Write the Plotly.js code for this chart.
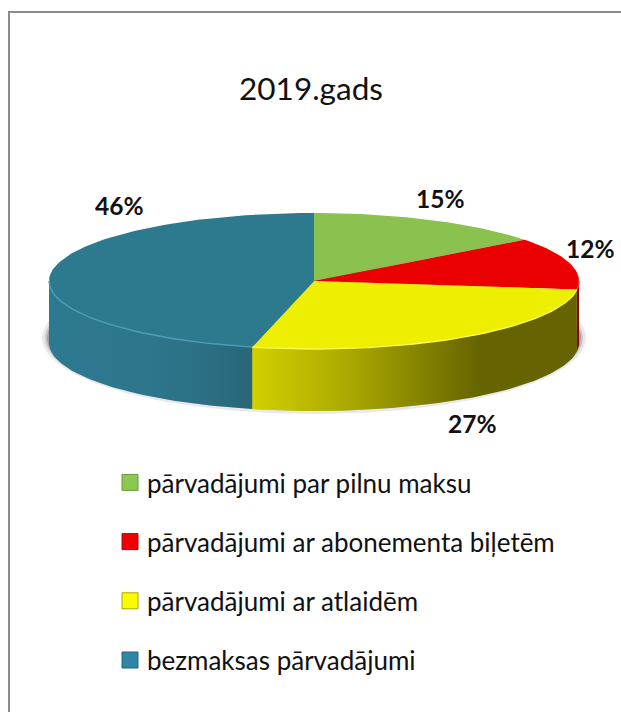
<!DOCTYPE html>
<html>
<head>
<meta charset="utf-8">
<script src="https://cdn.plot.ly/plotly-3.0.1.min.js"></script>
<style>html,body{margin:0;padding:0;background:#fff}#chart{width:621px;height:712px}.legendpoints{transform:translateX(3px)}</style>
</head>
<body>
<div id="chart"></div>
<script>
const categories = ["pārvadājumi par pilnu maksu","pārvadājumi ar abonementa biļetēm","pārvadājumi ar atlaidēm","bezmaksas pārvadājumi"];
const shares = [14.6, 12.4, 26.75, 46.25];
const labels = ["15%", "12%", "27%", "46%"];
const titleText = "2019.gads";
const topColors = ["#8bc14f", "#ea0000", "#eeee00", "#2d7a8f"];
const legendColors = ["#8cc653", "#f00000", "#fbfb00", "#2f86a4"];
const legendEdges = ["#6f9a40", "#a01010", "#a8a800", "#24657c"];
const rimColors = ["#9ad060", "#ff3030", "#fbfb50", "#4a9fb8"];
const wallScales = [
  [[0,"#7aa845"],[1,"#7aa845"]],
  [[0,"#a00000"],[1,"#8a0000"]],
  [[0,"#d2d000"],[0.3,"#aaa800"],[0.7,"#666400"],[1,"#666400"]],
  [[0,"#2d7a90"],[0.5,"#2d768c"],[0.8,"#2b6e82"],[1,"#296678"]]
];
const labelX = [440, 590, 472, 119];
const labelY = [198, 248, 423, 205];

// Pie geometry on the pixel-scaled axes
const cx = 314, cy = 281, rx = 265, ry = 68, depth = 62;
const px = d => cx + rx * Math.sin(d * Math.PI / 180);
const py = d => cy - ry * Math.cos(d * Math.PI / 180);
function arc(a, b) {
  const out = [], n = Math.max(2, Math.ceil(Math.abs(b - a) / 1.5));
  for (let i = 0; i <= n; i++) out.push(a + (b - a) * i / n);
  return out;
}
const total = shares.reduce((s, v) => s + v, 0);
let run = 0;
const spans = shares.map(v => { const a = run / total * 360; run += v; return [a, run / total * 360]; });

const traces = [];
// soft shadow under the pie
[[8, 0.12], [5, 0.2], [3, 0.3], [1, 0.4]].forEach(([grow, alpha]) => {
  const t = arc(0, 360);
  traces.push({
    x: t.map(d => cx + (rx + grow - 1) * Math.sin(d * Math.PI / 180)),
    y: t.map(d => cy + depth - 5 - (ry + grow) * Math.cos(d * Math.PI / 180)),
    mode: "lines", line: {width: 0}, fill: "toself",
    fillcolor: "rgba(70,70,70," + alpha + ")", hoverinfo: "skip", showlegend: false
  });
});
// side walls (only the front half of the rim is visible)
spans.forEach(([a, b], i) => {
  const s = Math.max(a, 90), e = Math.min(b, 270);
  if (e <= s) return;
  const t = arc(s, e);
  const xs = t.map(px), ys = t.map(py);
  const lo = Math.min(...xs), hi = Math.max(...xs);
  traces.push({
    x: xs.concat(xs.slice().reverse()).concat([xs[0]]),
    y: ys.concat(ys.slice().reverse().map(v => v + depth)).concat([ys[0]]),
    mode: "lines", line: {width: 0}, fill: "toself",
    fillgradient: {type: "horizontal", colorscale: wallScales[i], start: lo, stop: hi},
    hoverinfo: "skip", showlegend: false
  });
});
// top faces
spans.forEach(([a, b], i) => {
  const t = arc(a, b);
  traces.push({
    x: [cx].concat(t.map(px)).concat([cx]),
    y: [cy].concat(t.map(py)).concat([cy]),
    mode: "lines", line: {width: 0}, fill: "toself", fillcolor: topColors[i],
    name: categories[i], text: labels[i], hoverinfo: "name+text", showlegend: false
  });
});
// lit rim along the front edge
spans.forEach(([a, b], i) => {
  const s = Math.max(a, 90), e = Math.min(b, 270);
  if (e <= s) return;
  const t = arc(s, e);
  traces.push({
    x: t.map(px), y: t.map(py), mode: "lines",
    line: {width: 1.4, color: rimColors[i]}, hoverinfo: "skip", showlegend: false
  });
});
// legend entries
categories.forEach((c, i) => {
  traces.push({
    x: [null], y: [null], mode: "markers", name: c, legendgroup: "g" + i,
    marker: {symbol: "square", size: 16, color: legendColors[i], line: {width: 1, color: legendEdges[i]}},
    hoverinfo: "skip"
  });
});

const border = "#8c8c8c";
const layout = {
  width: 621, height: 712,
  margin: {l: 0, r: 0, t: 0, b: 0},
  paper_bgcolor: "#fff", plot_bgcolor: "#fff",
  font: {family: "Lato, 'Open Sans', sans-serif", color: "#111"},
  title: {text: titleText, x: 311 / 621, xanchor: "center", y: 1 - 89 / 712, yanchor: "middle", font: {size: 31.5, color: "#111", family: "Lato, sans-serif"}},
  xaxis: {range: [0, 621], visible: false, fixedrange: true},
  yaxis: {range: [712, 0], visible: false, fixedrange: true},
  showlegend: true,
  legend: {x: 107 / 621, y: 1 - 459 / 712, xanchor: "left", yanchor: "top", traceorder: "grouped",
    font: {size: 26, color: "#111"}, tracegroupgap: 22.4, itemwidth: 30, bgcolor: "rgba(0,0,0,0)", itemclick: false, itemdoubleclick: false},
  shapes: [
    {type: "line", xref: "x", yref: "y", x0: 9, x1: 9, y0: 11, y1: 712, line: {color: border, width: 2}},
    {type: "line", xref: "x", yref: "y", x0: 8, x1: 621, y0: 12, y1: 12, line: {color: border, width: 2}}
  ],
  annotations: labels.map((t, i) => ({
    x: labelX[i], y: labelY[i], xref: "x", yref: "y", text: "<b>" + t + "</b>", showarrow: false,
    font: {size: 24.5, color: "#111", family: "Lato, sans-serif"}, xanchor: "center", yanchor: "middle"
  }))
};
Plotly.newPlot("chart", traces, layout, {displayModeBar: false, responsive: false});
</script>
</body>
</html>
